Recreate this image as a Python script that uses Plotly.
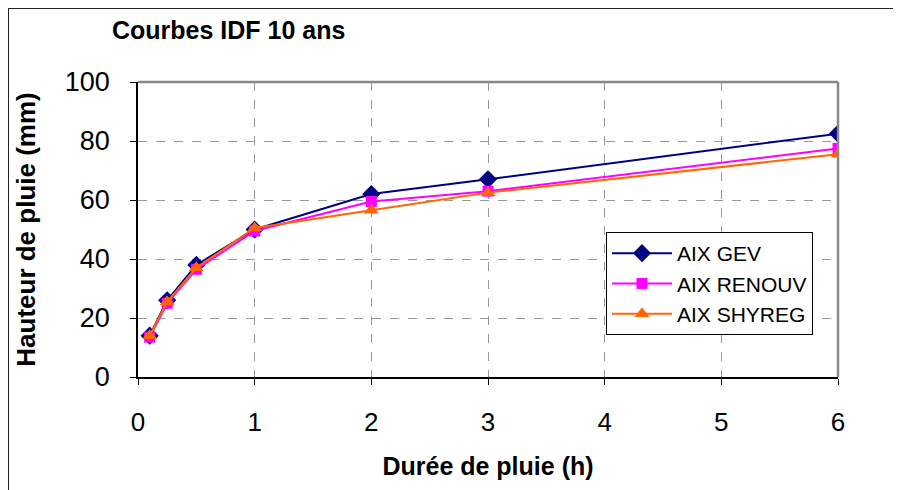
import plotly.graph_objects as go

durations = [0.1, 0.25, 0.5, 1, 2, 3, 6]
gev = [14, 26, 38, 50, 62, 67, 82.5]
renouv = [13.5, 25, 36.5, 49.5, 59.5, 63, 77.5]
shyreg = [14, 25.5, 37, 50.5, 56.5, 62.5, 75.5]
x_ticks = [0, 1, 2, 3, 4, 5, 6]
y_ticks = [0, 20, 40, 60, 80, 100]

# page body has an 8px margin; figure coordinates are offset accordingly
OFF = 8
W, H = 901 - OFF, 490 - OFF
L, T = 138 - OFF, 82 - OFF
R = W - (838 - OFF)
B = H - (377 - OFF)
pw, ph = W - L - R, H - T - B


def px(xs):
    return (xs - OFF - L) / pw


def py(ys):
    return (H - B - (ys - OFF)) / ph


fig = go.Figure()
fig.add_trace(go.Scatter(x=durations, y=gev, name="AIX GEV", mode="lines+markers",
                         line=dict(color="#000080", width=2),
                         marker=dict(symbol="diamond", size=14, color="#000080")))
fig.add_trace(go.Scatter(x=durations, y=renouv, name="AIX RENOUV", mode="lines+markers",
                         line=dict(color="#FF00FF", width=2),
                         marker=dict(symbol="square", size=11, color="#FF00FF")))
fig.add_trace(go.Scatter(x=durations, y=shyreg, name="AIX SHYREG", mode="lines+markers",
                         line=dict(color="#FF6600", width=2),
                         marker=dict(symbol="triangle-up", size=13, color="#FF6600")))

font_fam = "Liberation Sans, Arial, sans-serif"
fig.update_layout(
    width=W, height=H,
    margin=dict(l=L, r=R, t=T, b=B),
    paper_bgcolor="white", plot_bgcolor="white",
    font=dict(family=font_fam, color="black"),
    showlegend=True,
    legend=dict(x=px(606), y=py(232), xanchor="left", yanchor="top",
                bordercolor="black", borderwidth=1, bgcolor="white",
                font=dict(size=21, family=font_fam), itemwidth=60, tracegroupgap=0),
    xaxis=dict(range=[0, 6], tickvals=x_ticks, showgrid=True, gridcolor="#999999",
               griddash="dash", gridwidth=1, showline=True, linecolor="black", linewidth=1.5,
               ticks="outside", ticklen=6, tickcolor="black", zeroline=False, automargin=False,
               tickfont=dict(size=26), ticklabelstandoff=15,
               title=dict(text="<b>Durée de pluie (h)</b>", font=dict(size=25), standoff=22)),
    yaxis=dict(range=[0, 100], tickvals=y_ticks, showgrid=True, gridcolor="#999999",
               griddash="dash", gridwidth=1, showline=True, linecolor="black", linewidth=1.5,
               ticks="outside", ticklen=6, tickcolor="black", zeroline=False, automargin=False,
               tickfont=dict(size=27), ticklabelstandoff=15,
               title=dict(text="<b>Hauteur de pluie (mm)</b>", font=dict(size=26), standoff=22)),
    annotations=[dict(text="<b>Courbes IDF 10 ans</b>", xref="paper", yref="paper",
                      x=px(110), y=py(30), xanchor="left", yanchor="middle",
                      showarrow=False, font=dict(size=25))],
    shapes=[
        dict(type="line", xref="paper", yref="paper", x0=0, x1=1, y0=1, y1=1,
             line=dict(color="#888888", width=2.5)),
        dict(type="line", xref="paper", yref="paper", x0=1, x1=1, y0=0, y1=1,
             line=dict(color="#888888", width=2.5)),
        dict(type="line", xref="paper", yref="paper", x0=px(8), x1=px(8),
             y0=py(500), y1=py(7), line=dict(color="#222222", width=2)),
        dict(type="line", xref="paper", yref="paper", x0=px(7), x1=px(910),
             y0=py(8), y1=py(8), line=dict(color="#222222", width=2)),
    ],
)
fig.write_html("out.html")
